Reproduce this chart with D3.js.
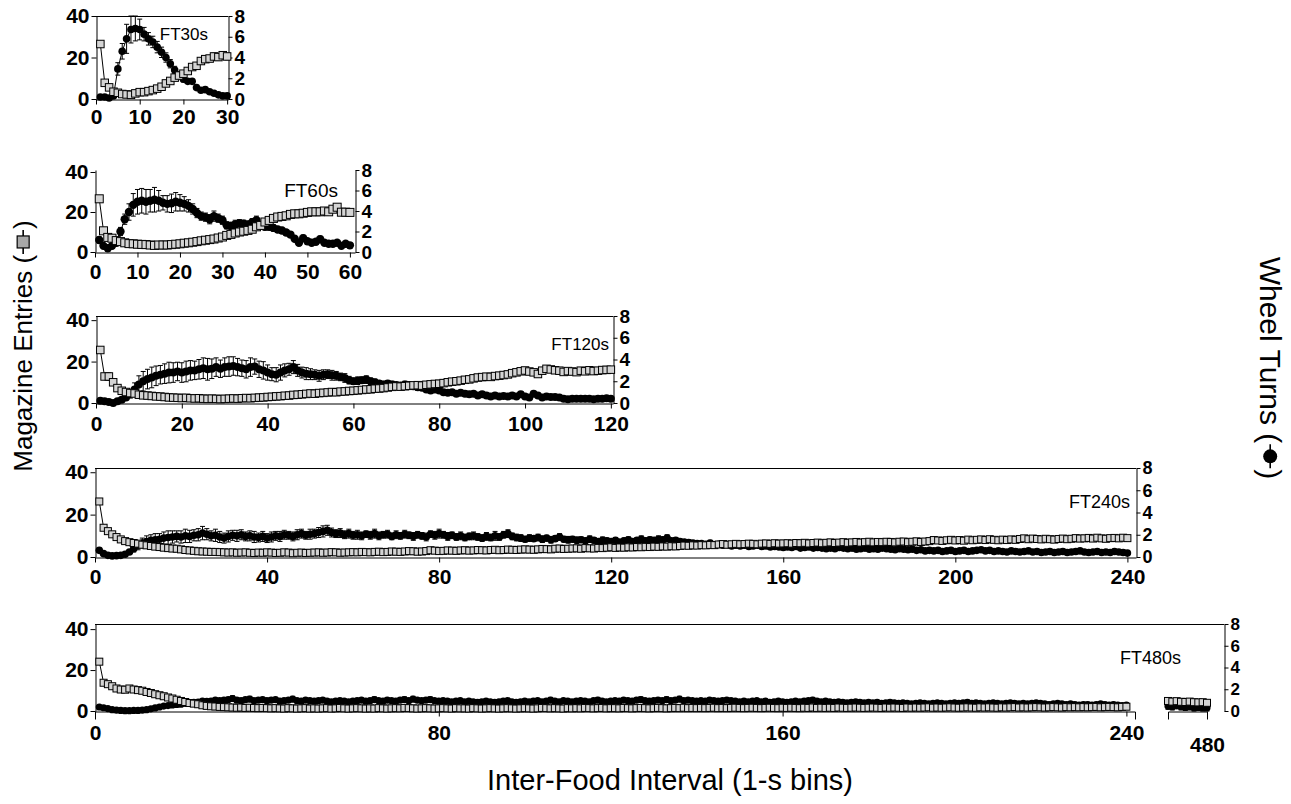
<!DOCTYPE html>
<html><head><meta charset="utf-8">
<script src="https://cdn.jsdelivr.net/npm/d3@7"></script>
<style>
body{margin:0;background:#fff;}
svg{display:block;font-family:"Liberation Sans",Arial,Helvetica,sans-serif;}
</style></head><body>
<svg id="chart" width="1291" height="804"></svg>
<script>
// ---------- tick labels ----------
const leftTicks = [0, 20, 40];
const rightTicks = [0, 2, 4, 6, 8];
const xTicks30 = [0, 10, 20, 30];
const xTicks60 = [0, 10, 20, 30, 40, 50, 60];
const xTicks120 = [0, 20, 40, 60, 80, 100, 120];
const xTicks240 = [0, 40, 80, 120, 160, 200, 240];
const xTicks480a = [0, 80, 160, 240];
const xTicks480b = [480];
const panelNames = ["FT30s", "FT60s", "FT120s", "FT240s", "FT480s"];

// ---------- FT30s (1-s bins 1..30) ----------
const mag30 = [26.5,7.8,5.6,3.5,3.0,2.4,2.2,2.0,2.7,3.3, 3.3,3.8,4.3,5.0,5.9,7.5,8.7,10.3,11.3,12.2, 13.5,15.4,16.0,18.3,19.2,19.5,20.5,20.2,21.1,20.5];
const magSem30 = [0.8,0.9,0.7,0.5,0.4,0.4,0.4,0.4,0.5,0.5, 0.5,0.6,0.6,0.7,0.7,0.8,0.9,1.0,1.0,1.1, 1.2,1.3,1.3,1.4,1.5,1.5,1.6,1.6,1.6,1.6];
const wheel30 = [0.2,0.2,0.1,0.3,2.9,4.6,5.8,6.7,6.8,6.7, 6.25,5.8,5.5,5.0,4.5,4.0,3.4,2.8,2.3,1.9, 1.7,1.7,1.1,0.85,0.9,0.7,0.55,0.4,0.3,0.3];
const wheelSem30 = [0.1,0.1,0.05,0.15,0.6,0.75,1.4,1.3,1.2,1.0, 0.65,0.6,0.55,0.55,0.5,0.45,0.4,0.35,0.3,0.25, 0.2,0.2,0.15,0.15,0.15,0.1,0.1,0.1,0.1,0.1];

// ---------- FT60s ----------
const mag60 = [26.6,10.6,7.3,6.9,5.7,5.2,4.6,4.2,4.1,3.9, 3.8,3.7,3.5,3.3,3.5,3.5,3.5,3.7,3.9,4.1,
  4.4,4.6,4.9,5.2,5.6,5.9,6.2,6.5,7.0,7.5, 8.3,8.8,9.5,10.0,10.4,10.8,11.4,12.6,13.3,15.0,
  15.8,16.8,17.5,17.8,18.1,18.8,19.1,19.1,19.4,19.8, 20.1,20.1,20.1,20.5,20.1,21.4,22.4,19.9,19.9,19.8];
const magSem60 = [1.2,1.0,0.8,0.7,0.6,0.5,0.5,0.5,0.5,0.5, 0.5,0.5,0.5,0.5,0.5,0.5,0.5,0.5,0.5,0.5,
  0.6,0.6,0.6,0.6,0.7,0.7,0.7,0.7,0.8,0.8, 0.8,0.9,0.9,0.9,1.0,1.0,1.0,1.1,1.1,1.1,
  1.2,1.2,1.2,1.2,1.2,1.3,1.3,1.3,1.3,1.3, 1.3,1.3,1.3,1.3,1.3,1.4,1.4,1.3,1.3,1.3];
const wheel60 = [1.17,0.6,0.36,0.6,0.9,2.0,3.2,3.9,4.6,4.9, 5.0,4.9,5.0,5.1,5.0,4.8,4.7,4.75,4.9,4.8,
  4.7,4.5,4.2,3.8,3.5,3.4,3.2,3.5,3.3,3.1, 2.6,2.55,2.7,2.8,2.75,2.7,2.9,3.1,2.6,2.45,
  2.45,2.35,2.2,2.1,1.9,1.7,1.3,0.9,1.35,1.05, 0.9,1.0,1.25,0.9,0.8,0.8,0.9,0.6,0.8,0.65];
const wheelSem60 = [0.3,0.2,0.15,0.2,0.3,0.4,0.5,0.8,1.1,1.2, 1.2,1.2,1.1,1.2,1.0,0.7,0.8,0.9,0.9,0.8,
  0.7,0.6,0.5,0.45,0.4,0.4,0.45,0.5,0.4,0.4, 0.35,0.35,0.4,0.35,0.35,0.3,0.35,0.4,0.35,0.3,
  0.3,0.3,0.3,0.3,0.25,0.25,0.25,0.2,0.3,0.25, 0.2,0.25,0.3,0.2,0.2,0.2,0.2,0.15,0.2,0.15];

// ---------- FT120s ----------
const mag120 = [25.6,12.8,12.8,10.0,7.2,5.9,5.3,4.8,4.6,4.0, 3.7,3.6,3.4,3.2,3.1,2.9,2.7,2.6,2.5,2.4,
  2.5,2.3,2.2,2.3,2.1,2.0,2.1,2.0,1.9,2.0, 2.1,2.2,2.1,2.3,2.4,2.3,2.5,2.6,2.7,2.9,
  3.0,3.2,3.3,3.5,3.6,3.9,4.0,4.2,4.4,4.6, 4.5,4.8,4.9,5.1,5.3,5.2,5.5,5.6,5.8,5.9,
  6.1,6.3,6.5,6.6,6.9,7.0,7.2,7.5,7.8,8.0, 7.9,8.1,8.3,8.5,8.6,8.4,8.8,9.0,9.2,9.3,
  9.6,10.0,10.3,10.5,10.8,11.2,11.4,11.9,12.3,12.5, 12.7,12.6,13.0,13.2,13.5,13.8,14.4,14.8,15.3,15.7,
  15.2,14.8,14.0,15.6,16.5,16.2,15.8,15.6,15.0,15.4, 15.2,14.9,15.6,15.3,15.8,15.4,15.6,15.9,16.0,16.1];
const magSem120 = [1.0,1.2,1.8,1.0,0.8,0.6,0.6,0.5,0.5,0.5, 0.4,0.4,0.4,0.4,0.4,0.4,0.4,0.4,0.4,0.4,
  0.4,0.4,0.4,0.4,0.4,0.4,0.4,0.4,0.4,0.4, 0.4,0.4,0.4,0.4,0.4,0.4,0.4,0.4,0.4,0.4,
  0.4,0.5,0.5,0.5,0.5,0.5,0.5,0.5,0.5,0.5, 0.5,0.5,0.5,0.5,0.5,0.5,0.5,0.5,0.5,0.5,
  0.6,0.6,0.6,0.6,0.6,0.6,0.6,0.6,0.6,0.6, 0.7,0.7,0.7,0.7,0.7,0.7,0.7,0.7,0.7,0.7,
  0.7,0.7,0.8,0.8,0.8,0.8,0.8,0.8,0.8,0.8, 0.8,0.8,0.9,0.9,0.9,0.9,1.0,1.0,1.0,1.0,
  1.0,1.0,1.0,1.0,1.1,1.0,1.0,1.0,1.0,1.0, 1.0,1.0,1.0,1.0,1.0,1.0,1.0,1.0,1.0,1.0];
const wheel120 = [0.2,0.15,0.1,0.0,0.15,0.3,0.5,0.85,1.25,1.7, 2.0,2.2,2.35,2.5,2.6,2.7,2.8,2.8,2.9,2.8,
  2.9,3.0,3.0,3.1,3.2,3.1,3.15,3.3,3.15,3.3, 3.35,3.4,3.3,3.2,3.1,3.3,3.35,3.1,3.0,2.8,
  2.65,2.6,2.8,3.0,3.1,3.3,3.0,2.8,2.7,2.65, 2.6,2.5,2.6,2.65,2.55,2.5,2.4,2.3,2.1,2.0,
  2.05,2.1,2.15,2.0,1.9,1.8,1.7,1.8,1.7,1.65, 1.6,1.7,1.65,1.55,1.45,1.4,1.25,1.15,1.25,1.15,
  1.0,0.95,1.0,0.85,0.95,0.85,0.8,0.85,0.7,0.8, 0.7,0.6,0.7,0.6,0.65,0.6,0.7,0.6,0.8,0.6,
  0.5,0.85,0.7,0.5,0.6,0.55,0.55,0.5,0.4,0.35, 0.38,0.4,0.38,0.4,0.38,0.35,0.4,0.38,0.44,0.4];
const wheelSem120 = [0.1,0.1,0.1,0.1,0.1,0.15,0.2,0.4,0.6,0.8, 0.9,0.9,0.95,0.9,0.85,0.9,0.95,0.9,0.85,0.9,
  0.95,0.9,0.85,0.9,0.95,1.0,0.9,0.85,0.8,0.85, 0.9,0.85,0.8,0.75,0.8,0.85,0.7,0.75,0.8,0.7,
  0.6,0.65,0.7,0.6,0.55,0.6,0.55,0.5,0.55,0.5, 0.45,0.5,0.45,0.4,0.45,0.4,0.35,0.4,0.35,0.3,
  0.35,0.3,0.35,0.3,0.3,0.25,0.3,0.25,0.3,0.25, 0.25,0.3,0.25,0.25,0.3,0.2,0.25,0.2,0.2,0.2,
  0.2,0.2,0.15,0.2,0.2,0.15,0.2,0.2,0.15,0.2, 0.2,0.15,0.2,0.15,0.2,0.15,0.2,0.15,0.2,0.15,
  0.15,0.2,0.15,0.15,0.15,0.15,0.15,0.15,0.1,0.1, 0.1,0.1,0.1,0.1,0.1,0.1,0.1,0.1,0.1,0.1];

// ---------- FT240s ----------
const mag240 = [26.2,13.8,12.2,10.7,9.4,8.3,7.5,7.0,6.6,6.3, 5.8,5.5,5.2,4.9,4.7,4.4,4.2,4.0,3.9,3.6,
  3.3,3.1,2.9,2.7,2.6,2.5,2.4,2.4,2.3,2.2, 2.1,2.2,2.0,2.1,2.2,2.0,1.9,2.1,2.0,2.2,
  2.1,1.9,2.0,2.2,2.1,1.8,2.0,2.1,1.9,2.0, 2.1,2.2,2.0,2.1,2.3,2.2,2.0,2.1,2.2,2.3,
  2.2,2.4,2.3,2.2,2.4,2.5,2.3,2.4,2.6,2.5, 2.4,2.6,2.8,2.7,2.5,2.6,2.8,3.2,3.0,2.8,
  2.9,3.1,3.0,2.9,3.1,3.2,3.0,3.1,3.3,3.2, 3.1,3.3,3.4,3.2,3.3,3.5,3.4,3.3,3.5,3.6,
  3.5,3.4,3.6,3.8,3.7,3.6,3.9,4.0,3.8,3.9, 4.0,4.1,3.9,4.2,4.1,4.0,4.3,4.2,4.4,4.6,
  4.3,4.5,4.4,4.6,4.5,4.7,4.6,4.8,4.7,4.9, 4.8,5.0,4.9,5.1,5.0,5.2,5.4,5.3,5.5,5.4,
  5.6,5.5,5.7,5.6,5.9,6.1,5.8,6.0,6.2,6.0, 6.1,6.3,6.2,6.0,6.3,6.4,6.2,6.5,6.3,6.4,
  6.5,6.3,6.6,6.5,6.7,6.4,6.6,6.8,6.5,6.7, 6.9,6.6,6.8,7.0,6.7,6.9,7.1,6.8,7.0,7.2,
  6.9,7.1,7.0,7.2,7.1,6.9,7.2,7.3,7.0,7.2, 7.4,7.1,7.3,7.5,8.0,7.8,7.6,7.9,8.1,7.8,
  8.0,7.7,8.2,7.9,8.1,8.3,8.0,8.4,8.1,7.9, 8.2,8.0,8.3,8.1,8.5,8.8,8.4,8.7,8.5,8.3,
  8.6,8.4,8.2,8.5,8.7,8.4,8.6,8.9,8.7,8.8, 9.0,8.7,9.1,8.8,8.6,8.9,9.0,8.8,9.1,8.9];
const magSem240 = [1.3,1.2,1.0,0.9,0.8,0.8,0.7,0.7,0.7,0.6, 0.6,0.6,0.5,0.5,0.5,0.5,0.5,0.5,0.5,0.5,
  0.5,0.4,0.4,0.4,0.4,0.4,0.4,0.4,0.4,0.4, 0.4,0.4,0.4,0.4,0.4,0.4,0.4,0.4,0.4,0.4,
  0.4,0.4,0.4,0.4,0.4,0.4,0.4,0.4,0.4,0.4, 0.4,0.4,0.4,0.4,0.4,0.4,0.4,0.4,0.4,0.4,
  0.4,0.4,0.4,0.4,0.4,0.4,0.4,0.4,0.5,0.4, 0.4,0.5,0.5,0.5,0.4,0.5,0.5,0.6,0.5,0.5,
  0.5,0.5,0.5,0.5,0.5,0.5,0.5,0.5,0.5,0.5, 0.5,0.5,0.5,0.5,0.5,0.5,0.5,0.5,0.5,0.5,
  0.5,0.5,0.5,0.6,0.5,0.5,0.6,0.6,0.5,0.6, 0.6,0.6,0.5,0.6,0.6,0.6,0.6,0.6,0.6,0.6,
  0.6,0.6,0.6,0.6,0.6,0.6,0.6,0.6,0.6,0.6, 0.6,0.6,0.6,0.6,0.6,0.6,0.7,0.6,0.7,0.6,
  0.7,0.6,0.7,0.6,0.7,0.7,0.6,0.7,0.7,0.7, 0.7,0.7,0.7,0.7,0.7,0.7,0.7,0.7,0.7,0.7,
  0.7,0.7,0.7,0.7,0.7,0.7,0.7,0.7,0.7,0.7, 0.7,0.7,0.7,0.8,0.7,0.7,0.8,0.7,0.7,0.8,
  0.7,0.8,0.7,0.8,0.7,0.7,0.8,0.8,0.7,0.8, 0.8,0.7,0.8,0.8,0.9,0.8,0.8,0.8,0.9,0.8,
  0.8,0.8,0.9,0.8,0.8,0.9,0.8,0.9,0.8,0.8, 0.9,0.8,0.9,0.8,0.9,1.0,0.9,0.9,0.9,0.8,
  0.9,0.9,0.8,0.9,0.9,0.9,0.9,1.0,0.9,0.9, 1.0,0.9,1.0,0.9,0.9,0.9,1.0,0.9,1.0,0.9];
const wheel240 = [0.6,0.3,0.15,0.1,0.12,0.15,0.25,0.45,0.75,1.05, 1.25,1.4,1.5,1.55,1.6,1.7,1.75,1.8,1.85,1.8,
  1.9,1.85,1.95,2.0,2.15,2.05,1.9,1.95,1.8,1.7, 1.85,1.95,1.9,2.0,1.85,1.9,1.8,1.75,1.85,1.7,
  1.8,1.9,1.85,2.0,1.95,1.85,2.0,2.1,1.95,2.05, 2.1,2.2,2.3,2.4,2.2,2.1,2.15,2.0,2.1,1.95,
  2.0,1.9,2.05,1.95,2.1,1.9,2.0,2.05,1.85,2.0, 1.9,2.05,1.95,1.85,2.0,1.9,1.8,2.05,1.95,2.1,
  2.0,1.85,1.95,1.8,1.9,1.75,1.85,1.9,1.8,1.7, 1.85,1.75,1.9,1.8,2.0,2.1,1.85,1.75,1.7,1.6,
  1.7,1.65,1.75,1.6,1.7,1.55,1.65,1.8,1.6,1.55, 1.6,1.5,1.55,1.45,1.6,1.5,1.4,1.5,1.45,1.4,
  1.5,1.35,1.45,1.55,1.4,1.5,1.6,1.45,1.55,1.5, 1.6,1.55,1.7,1.45,1.5,1.4,1.35,1.3,1.25,1.2,
  1.2,1.15,1.25,1.1,1.15,1.05,1.1,1.0,1.05,1.0, 1.05,0.95,1.0,1.05,0.95,1.0,0.9,0.95,0.9,0.85,
  0.9,0.85,0.95,0.8,0.85,0.9,0.8,0.85,0.8,0.75, 0.8,0.75,0.85,0.8,0.75,0.8,0.7,0.75,0.8,0.7,
  0.75,0.7,0.8,0.75,0.7,0.65,0.75,0.7,0.65,0.7, 0.6,0.65,0.55,0.6,0.55,0.6,0.5,0.55,0.6,0.5,
  0.55,0.6,0.5,0.55,0.6,0.65,0.55,0.6,0.5,0.55, 0.5,0.45,0.55,0.5,0.45,0.5,0.55,0.45,0.5,0.4,
  0.45,0.5,0.4,0.45,0.5,0.4,0.45,0.5,0.55,0.45, 0.4,0.45,0.5,0.4,0.45,0.4,0.5,0.45,0.4,0.35];
const wheelSem240 = [0.2,0.15,0.1,0.1,0.1,0.1,0.15,0.2,0.3,0.4, 0.45,0.5,0.5,0.55,0.5,0.55,0.6,0.55,0.5,0.55,
  0.6,0.55,0.5,0.55,0.6,0.5,0.45,0.55,0.5,0.45, 0.5,0.45,0.5,0.45,0.4,0.45,0.5,0.4,0.45,0.4,
  0.45,0.4,0.45,0.4,0.35,0.4,0.45,0.4,0.35,0.45, 0.4,0.45,0.5,0.45,0.4,0.35,0.4,0.35,0.4,0.35,
  0.4,0.35,0.3,0.35,0.4,0.35,0.3,0.35,0.3,0.35, 0.3,0.35,0.3,0.35,0.3,0.3,0.35,0.3,0.35,0.4,
  0.3,0.35,0.3,0.3,0.35,0.3,0.3,0.35,0.3,0.3, 0.35,0.3,0.4,0.3,0.3,0.35,0.3,0.3,0.3,0.25,
  0.3,0.25,0.3,0.3,0.25,0.3,0.25,0.3,0.25,0.3, 0.25,0.3,0.25,0.25,0.3,0.25,0.25,0.3,0.25,0.25,
  0.25,0.2,0.25,0.25,0.2,0.25,0.3,0.25,0.25,0.25, 0.3,0.25,0.3,0.2,0.25,0.2,0.2,0.25,0.2,0.2,
  0.2,0.2,0.25,0.2,0.2,0.2,0.2,0.2,0.2,0.2, 0.2,0.2,0.2,0.2,0.2,0.2,0.2,0.2,0.2,0.2,
  0.2,0.2,0.2,0.2,0.2,0.2,0.2,0.2,0.2,0.2, 0.2,0.2,0.2,0.2,0.2,0.2,0.2,0.2,0.2,0.2,
  0.2,0.2,0.2,0.2,0.2,0.2,0.2,0.2,0.2,0.2, 0.2,0.2,0.2,0.2,0.2,0.2,0.2,0.2,0.2,0.2,
  0.2,0.2,0.2,0.2,0.2,0.2,0.2,0.2,0.2,0.2, 0.2,0.2,0.2,0.2,0.2,0.2,0.2,0.2,0.2,0.2,
  0.2,0.2,0.2,0.2,0.2,0.2,0.2,0.2,0.2,0.2, 0.2,0.2,0.2,0.2,0.2,0.2,0.2,0.2,0.2,0.2];

// ---------- FT480s: bins 1..240 and 471..480 ----------
const mag480a = [24.1,13.8,13.1,12.1,11.0,10.5,10.4,11.0,10.5,10.2, 9.9,9.3,8.8,8.2,7.7,7.2,6.6,6.1,5.5,4.9,
  4.4,3.9,3.6,3.3,2.8,2.5,2.3,2.2,2.0,1.9, 1.8,1.7,1.6,1.7,1.5,1.6,1.5,1.4,1.5,1.4,
  1.3,1.4,1.3,1.2,1.4,1.3,1.2,1.3,1.4,1.2, 1.3,1.2,1.3,1.4,1.2,1.3,1.5,1.3,1.2,1.3,
  1.4,1.3,1.2,1.3,1.2,1.4,1.3,1.2,1.3,1.4, 1.3,1.5,1.4,1.3,1.2,1.3,1.4,1.3,1.2,1.3,
  1.4,1.3,1.2,1.4,1.3,1.3,1.2,1.4,1.3,1.2, 1.3,1.4,1.3,1.2,1.3,1.4,1.3,1.2,1.3,1.4,
  1.3,1.2,1.3,1.5,1.4,1.3,1.4,1.3,1.2,1.4, 1.3,1.4,1.3,1.5,1.4,1.3,1.4,1.5,1.3,1.4,
  1.4,1.3,1.5,1.4,1.3,1.4,1.5,1.4,1.3,1.4, 1.5,1.4,1.3,1.4,1.5,1.4,1.6,1.4,1.5,1.4,
  1.5,1.4,1.5,1.6,1.4,1.5,1.4,1.5,1.6,1.5, 1.4,1.5,1.6,1.5,1.4,1.5,1.6,1.5,1.4,1.6,
  1.5,1.6,1.5,1.4,1.6,1.5,1.7,1.5,1.6,1.5, 1.6,1.5,1.7,1.6,1.5,1.6,1.7,1.6,1.5,1.6,
  1.7,1.6,1.5,1.7,1.6,1.7,1.6,1.5,1.7,1.6, 1.7,1.6,1.7,1.8,1.6,1.7,1.6,1.7,1.8,1.7,
  1.6,1.7,1.8,1.7,1.6,1.8,1.7,1.8,1.7,1.6, 1.8,1.7,1.8,1.9,1.7,1.8,1.7,1.8,1.9,1.8,
  1.7,1.8,1.9,1.8,1.7,1.9,1.8,1.9,1.8,1.9, 1.8,1.9,2.0,1.8,1.9,2.0,1.9,1.8,2.0,2.1];
const magSem480a = [1.3,1.1,1.0,1.0,1.0,1.1,1.2,1.3,1.2,1.1, 1.0,1.0,0.9,0.9,0.8,0.8,0.7,0.7,0.6,0.6,
  0.5,0.5,0.5,0.4,0.4,0.4,0.4,0.3,0.3,0.3, 0.3,0.3,0.3,0.3,0.3,0.3,0.3,0.3,0.3,0.3,
  0.3,0.3,0.3,0.3,0.3,0.3,0.3,0.3,0.3,0.3, 0.3,0.3,0.3,0.3,0.3,0.3,0.3,0.3,0.3,0.3,
  0.3,0.3,0.3,0.3,0.3,0.3,0.3,0.3,0.3,0.3, 0.3,0.3,0.3,0.3,0.3,0.3,0.3,0.3,0.3,0.3,
  0.3,0.3,0.3,0.3,0.3,0.3,0.3,0.3,0.3,0.3, 0.3,0.3,0.3,0.3,0.3,0.3,0.3,0.3,0.3,0.3,
  0.3,0.3,0.3,0.3,0.3,0.3,0.3,0.3,0.3,0.3, 0.3,0.3,0.3,0.3,0.3,0.3,0.3,0.3,0.3,0.3,
  0.3,0.3,0.3,0.3,0.3,0.3,0.3,0.3,0.3,0.3, 0.3,0.3,0.3,0.3,0.3,0.3,0.3,0.3,0.3,0.3,
  0.3,0.3,0.3,0.3,0.3,0.3,0.3,0.3,0.3,0.3, 0.3,0.3,0.3,0.3,0.3,0.3,0.3,0.3,0.3,0.3,
  0.3,0.3,0.3,0.3,0.3,0.3,0.3,0.3,0.3,0.3, 0.3,0.3,0.3,0.3,0.3,0.3,0.3,0.3,0.3,0.3,
  0.3,0.3,0.3,0.3,0.3,0.3,0.3,0.3,0.3,0.3, 0.3,0.3,0.3,0.3,0.3,0.3,0.3,0.3,0.3,0.3,
  0.3,0.3,0.3,0.3,0.3,0.3,0.3,0.3,0.3,0.3, 0.3,0.3,0.3,0.3,0.3,0.3,0.3,0.3,0.3,0.3,
  0.3,0.3,0.3,0.3,0.3,0.3,0.3,0.3,0.3,0.3, 0.3,0.3,0.3,0.3,0.3,0.3,0.3,0.3,0.3,0.4];
const wheel480a = [0.37,0.3,0.22,0.12,0.08,0.05,0.03,0.03,0.05,0.05, 0.08,0.12,0.2,0.28,0.37,0.45,0.5,0.55,0.6,0.62,
  0.7,0.75,0.8,0.82,0.9,0.88,0.92,1.0,0.95,1.0, 1.05,1.15,1.0,0.95,1.05,1.1,0.95,1.0,1.05,0.95,
  1.0,1.05,0.9,0.95,1.0,1.1,0.95,0.9,1.0,0.95, 0.9,0.95,1.0,0.9,0.85,0.9,0.95,0.9,0.85,0.9,
  0.95,1.0,0.9,0.95,1.05,0.95,0.9,1.0,0.95,0.9, 1.0,1.05,0.95,1.1,1.0,0.95,1.0,1.05,0.95,0.9,
  0.95,0.9,0.85,0.9,0.95,0.85,0.9,0.85,0.8,0.85, 0.9,0.85,0.8,0.85,0.9,0.95,0.85,0.8,0.85,0.9,
  0.85,0.9,0.95,0.85,0.9,1.0,0.9,0.85,0.95,0.9, 0.85,0.9,0.95,0.9,0.85,0.95,1.0,0.9,0.85,0.9,
  0.95,0.9,1.0,0.95,0.9,1.0,1.05,0.95,0.9,0.95, 1.0,0.95,1.05,0.95,1.0,1.1,0.95,1.0,0.95,0.9,
  0.95,0.9,1.0,0.95,0.9,0.95,1.0,0.95,0.9,0.85, 0.9,0.85,0.9,0.95,0.85,0.9,0.8,0.85,0.9,0.85,
  0.8,0.85,0.9,0.85,0.9,0.95,1.0,0.9,0.85,0.9, 0.85,0.8,0.85,0.8,0.75,0.8,0.85,0.8,0.75,0.8,
  0.75,0.8,0.7,0.75,0.8,0.75,0.7,0.75,0.7,0.65, 0.7,0.75,0.7,0.65,0.7,0.75,0.7,0.65,0.7,0.75,
  0.7,0.75,0.8,0.7,0.75,0.7,0.65,0.7,0.75,0.7, 0.65,0.7,0.75,0.7,0.65,0.7,0.65,0.7,0.75,0.7,
  0.65,0.6,0.65,0.7,0.65,0.6,0.65,0.6,0.55,0.6, 0.6,0.55,0.6,0.65,0.6,0.55,0.6,0.55,0.5,0.55];
const wheelSem480a = [0.1,0.1,0.1,0.05,0.05,0.05,0.05,0.05,0.05,0.05, 0.05,0.05,0.1,0.1,0.1,0.15,0.15,0.15,0.2,0.2,
  0.2,0.2,0.2,0.2,0.2,0.2,0.2,0.2,0.2,0.2, 0.2,0.25,0.2,0.2,0.2,0.25,0.2,0.2,0.2,0.2,
  0.2,0.2,0.2,0.2,0.2,0.25,0.2,0.2,0.2,0.2, 0.2,0.2,0.2,0.2,0.2,0.2,0.2,0.2,0.2,0.2,
  0.2,0.2,0.2,0.2,0.25,0.2,0.2,0.2,0.2,0.2, 0.2,0.25,0.2,0.25,0.2,0.2,0.2,0.25,0.2,0.2,
  0.2,0.2,0.2,0.2,0.2,0.2,0.2,0.2,0.2,0.2, 0.2,0.2,0.2,0.2,0.2,0.2,0.2,0.2,0.2,0.2,
  0.2,0.2,0.2,0.2,0.2,0.25,0.2,0.2,0.2,0.2, 0.2,0.2,0.2,0.2,0.2,0.2,0.25,0.2,0.2,0.2,
  0.2,0.2,0.2,0.2,0.2,0.2,0.25,0.2,0.2,0.2, 0.2,0.2,0.25,0.2,0.2,0.25,0.2,0.2,0.2,0.2,
  0.2,0.2,0.2,0.2,0.2,0.2,0.2,0.2,0.2,0.2, 0.2,0.2,0.2,0.2,0.2,0.2,0.2,0.2,0.2,0.2,
  0.2,0.2,0.2,0.2,0.2,0.2,0.25,0.2,0.2,0.2, 0.2,0.2,0.2,0.2,0.2,0.2,0.2,0.2,0.2,0.2,
  0.2,0.2,0.2,0.2,0.2,0.2,0.2,0.2,0.2,0.2, 0.2,0.2,0.2,0.2,0.2,0.2,0.2,0.2,0.2,0.2,
  0.2,0.2,0.2,0.2,0.2,0.2,0.2,0.2,0.2,0.2, 0.2,0.2,0.2,0.2,0.2,0.2,0.2,0.2,0.2,0.2,
  0.2,0.2,0.2,0.2,0.2,0.2,0.2,0.2,0.2,0.2, 0.2,0.2,0.2,0.2,0.2,0.2,0.2,0.2,0.2,0.2];
const mag480b = [4.9,4.6,4.8,4.5,4.4,4.6,4.3,4.2,4.3,4.0];
const magSem480b = [0.9,0.9,0.9,0.9,0.9,0.9,0.9,0.9,0.9,0.9];
const wheel480b = [0.45,0.4,0.5,0.4,0.35,0.4,0.3,0.35,0.3,0.3];
const wheelSem480b = [0.3,0.3,0.3,0.3,0.3,0.3,0.3,0.3,0.3,0.3];

// ---------- layout ----------
const svg = d3.select("#chart");
const FONT = '"Liberation Sans", Arial, Helvetica, sans-serif';
const MAG_FILL = "#d4d4d4";

const bins = (from, arr) => arr.map((_, i) => from + i);

const panels = [
  { name: panelNames[0], left: 96, right: 228, top: 16, bottom: 99, magMax: 40, frameTop: true,
    labelX: 208, labelY: 40, labelFont: 17, sq: 7.5, r: 3.8, yFont: 21, rFont: 19, xFont: 21, xPad: 5,
    segs: [{ domain: [0, 30.2], range: [96, 228], ticks: xTicks30, outer: 0,
      bins: bins(1, mag30), mag: mag30, magSem: magSem30, wheel: wheel30, wheelSem: wheelSem30 }] },
  { name: panelNames[1], left: 95, right: 355, top: 170, bottom: 252, magMax: 41, frameTop: false,
    labelX: 338, labelY: 197, labelFont: 19, sq: 8, r: 4.2, yFont: 21, rFont: 19, xFont: 21, xPad: 7,
    segs: [{ domain: [0, 61.2], range: [95, 355], ticks: xTicks60, outer: 0,
      bins: bins(1, mag60), mag: mag60, magSem: magSem60, wheel: wheel60, wheelSem: wheelSem60 }] },
  { name: panelNames[2], left: 96, right: 613, top: 316, bottom: 403, magMax: 42, frameTop: true,
    labelX: 609, labelY: 350, labelFont: 17, sq: 7.5, r: 4, yFont: 21, rFont: 19, xFont: 21, xPad: 8,
    segs: [{ domain: [0, 120.5], range: [96, 613], ticks: xTicks120, outer: 0,
      bins: bins(1, mag120), mag: mag120, magSem: magSem120, wheel: wheel120, wheelSem: wheelSem120 }] },
  { name: panelNames[3], left: 95, right: 1136, top: 468, bottom: 557, magMax: 42, frameTop: true,
    labelX: 1130, labelY: 508, labelFont: 18, sq: 7, r: 3.8, yFont: 21, rFont: 18, xFont: 21, xPad: 7,
    segs: [{ domain: [0, 242], range: [95, 1136], ticks: xTicks240, outer: 0,
      bins: bins(1, mag240), mag: mag240, magSem: magSem240, wheel: wheel240, wheelSem: wheelSem240 }] },
  { name: panelNames[4], left: 95, right: 1224, top: 624, bottom: 711, magMax: 42.5, frameTop: true,
    labelX: 1181, labelY: 664, labelFont: 18, sq: 7, r: 3.6, yFont: 21, rFont: 17, xFont: 21, xPad: 9,
    segs: [
      { domain: [0, 242], range: [95, 1135], ticks: xTicks480a, outer: 8,
        bins: bins(1, mag480a), mag: mag480a, magSem: magSem480a, wheel: wheel480a, wheelSem: wheelSem480a },
      { domain: [471, 480], range: [1168, 1207], ticks: xTicks480b, outer: 8, padExtra: 12,
        bins: bins(471, mag480b), mag: mag480b, magSem: magSem480b, wheel: wheel480b, wheelSem: wheelSem480b }
    ] }
];

function styleAxis(sel, size) {
  sel.attr("font-family", FONT).attr("font-size", size).attr("font-weight", "bold");
  sel.selectAll("path.domain").attr("stroke", "#000").attr("stroke-width", 1);
  sel.selectAll(".tick line").attr("stroke", "#000").attr("stroke-width", 1);
  sel.selectAll(".tick text").attr("fill", "#000");
}

function drawSeries(g, pts, x, y, kind, p) {
  const data = pts.bins.map((b, i) => ({
    b, v: kind === "mag" ? pts.mag[i] : pts.wheel[i],
    e: kind === "mag" ? pts.magSem[i] : pts.wheelSem[i]
  }));
  const cap = 2.5;
  // connecting line
  g.append("path").datum(data)
    .attr("d", d3.line().x(d => x(d.b)).y(d => y(d.v)))
    .attr("fill", "none").attr("stroke", "#000").attr("stroke-width", 1);
  // SEM bars
  g.append("g").selectAll("path").data(data).join("path")
    .attr("d", d => {
      const cx = x(d.b), y1 = y(d.v + d.e), y0 = y(Math.max(0, d.v - d.e));
      return `M${cx - cap},${y1}H${cx + cap}M${cx},${y1}V${y0}M${cx - cap},${y0}H${cx + cap}`;
    })
    .attr("fill", "none").attr("stroke", "#000").attr("stroke-width", 1);
  // markers
  if (kind === "mag") {
    g.append("g").selectAll("rect").data(data).join("rect")
      .attr("x", d => x(d.b) - p.sq / 2).attr("y", d => y(d.v) - p.sq / 2)
      .attr("width", p.sq).attr("height", p.sq)
      .attr("fill", MAG_FILL).attr("stroke", "#000").attr("stroke-width", 1);
  } else {
    g.append("g").selectAll("circle").data(data).join("circle")
      .attr("cx", d => x(d.b)).attr("cy", d => y(d.v)).attr("r", p.r)
      .attr("fill", "#000");
  }
}

panels.forEach(p => {
  const g = svg.append("g");
  const yL = d3.scaleLinear().domain([0, p.magMax]).range([p.bottom, p.top]);
  const yR = d3.scaleLinear().domain([0, 8]).range([p.bottom, p.top]);

  if (p.frameTop) {
    g.append("line").attr("x1", p.left).attr("x2", p.right)
      .attr("y1", p.top + 0.5).attr("y2", p.top + 0.5)
      .attr("stroke", "#000").attr("stroke-width", 1);
  }
  g.append("g").attr("transform", `translate(${p.left + 0.5},0)`)
    .call(d3.axisLeft(yL).tickValues(leftTicks).tickSize(5).tickSizeOuter(0).tickPadding(2))
    .call(s => styleAxis(s, p.yFont));
  g.append("g").attr("transform", `translate(${p.right + 0.5},0)`)
    .call(d3.axisRight(yR).tickValues(rightTicks).tickSize(4).tickSizeOuter(0).tickPadding(2))
    .call(s => styleAxis(s, p.rFont));

  p.segs.forEach(s => {
    const x = d3.scaleLinear().domain(s.domain).range(s.range);
    g.append("g").attr("transform", `translate(0,${p.bottom + 0.5})`)
      .call(d3.axisBottom(x).tickValues(s.ticks).tickFormat(d3.format("d"))
        .tickSize(5).tickSizeOuter(s.outer).tickPadding(p.xPad + (s.padExtra || 0)))
      .call(a => styleAxis(a, p.xFont));
    drawSeries(g, s, x, yR, "wheel", p);
    drawSeries(g, s, x, yL, "mag", p);
  });

  g.append("text").attr("x", p.labelX).attr("y", p.labelY)
    .attr("text-anchor", "end").attr("font-family", FONT).attr("font-size", p.labelFont)
    .attr("fill", "#000").text(p.name);
});

// axis titles with the series glyph inside the parentheses
function glyphTitle(cx, cy, rot, label, glyph, fs) {
  const g = svg.append("g").attr("transform", `translate(${cx},${cy}) rotate(${rot})`);
  const inner = g.append("g");
  const t1 = inner.append("text").attr("font-family", FONT).attr("font-size", fs).text(label + " (");
  const w1 = t1.node().getComputedTextLength();
  const gw = 24, mid = -fs * 0.34;
  inner.append("line").attr("x1", w1 + 1).attr("x2", w1 + 1 + gw)
    .attr("y1", mid).attr("y2", mid).attr("stroke", "#000").attr("stroke-width", 1.6);
  if (glyph === "square") {
    inner.append("rect").attr("x", w1 + 1 + gw / 2 - 6).attr("y", mid - 6)
      .attr("width", 12).attr("height", 12).attr("fill", "#a8a8a8")
      .attr("stroke", "#000").attr("stroke-width", 1.2);
  } else {
    inner.append("circle").attr("cx", w1 + 1 + gw / 2).attr("cy", mid).attr("r", 7).attr("fill", "#000");
  }
  const t2 = inner.append("text").attr("font-family", FONT).attr("font-size", fs)
    .attr("x", w1 + gw + 2).text(")");
  const total = w1 + gw + 2 + t2.node().getComputedTextLength();
  inner.attr("transform", `translate(${-total / 2},0)`);
}
glyphTitle(32, 346, -90, "Magazine Entries", "square", 26);
glyphTitle(1260, 368, 90, "Wheel Turns", "circle", 30);

svg.append("text").attr("x", 670).attr("y", 790).attr("text-anchor", "middle")
  .attr("font-family", FONT).attr("font-size", 29).attr("fill", "#000")
  .text("Inter-Food Interval (1-s bins)");
</script>
</body></html>
